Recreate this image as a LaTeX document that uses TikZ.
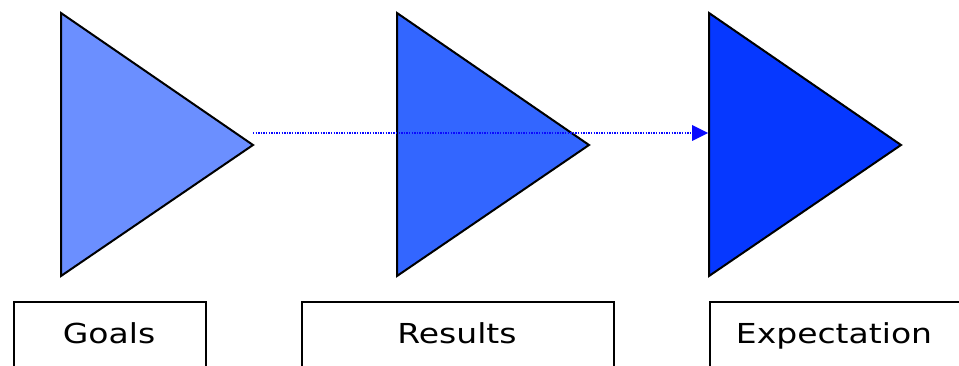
\documentclass[tikz,border=0pt]{standalone}
\usepackage{fontspec}
\setmainfont{DejaVu Sans}[FakeStretch=1.2]
\usetikzlibrary{arrows.meta}
\definecolor{triA}{HTML}{6B8FFF}
\definecolor{triB}{HTML}{3366FF}
\definecolor{triC}{HTML}{0638FF}
\definecolor{lineblue}{HTML}{0A0AFF}
\tikzset{
  tri/.style={draw=black, line width=2pt, line join=miter},
  labelbox/.style={draw=black, line width=2pt, rectangle, inner sep=0pt, anchor=north west},
  lbl/.style={font=\fontsize{27.5}{32}\selectfont, anchor=base, inner sep=0pt},
  dotline/.style={draw=lineblue, line width=1.5pt, dash pattern=on 1.3pt off 1.3pt,
    -{Triangle[length=16pt,width=16pt,fill=lineblue,line width=0pt]}},
}
\begin{document}
\begin{tikzpicture}[x=1pt,y=-1pt]
\useasboundingbox (0,0) rectangle (959,366);
\clip (0,0) rectangle (959,366);
% triangles
\fill[triA] (61,13) -- (253,145) -- (61,276) -- cycle;
\draw[tri] (61,13) -- (253,145) -- (61,276) -- cycle;
\fill[triB] (397,13) -- (589,145) -- (397,276) -- cycle;
\draw[tri] (397,13) -- (589,145) -- (397,276) -- cycle;
\fill[triC] (709,13) -- (901,145) -- (709,276) -- cycle;
\draw[tri] (709,13) -- (901,145) -- (709,276) -- cycle;
% connector
\coordinate (start) at (253,133);
\coordinate (goal) at (708,133);
\draw[dotline] (start) -- (goal);
% boxes
\node[labelbox, minimum width=192pt, minimum height=90pt] (b1) at (13,301) {};
\node[labelbox, minimum width=312pt, minimum height=90pt] (b2) at (301,301) {};
\node[labelbox, minimum width=300pt, minimum height=90pt] (b3) at (709,301) {};
\node[lbl] (l1) at (109,343) {Goals};
\node[lbl] (l2) at (457,343) {Results};
\node[lbl] (l3) at (834,343) {Expectation};
\end{tikzpicture}
\end{document}
